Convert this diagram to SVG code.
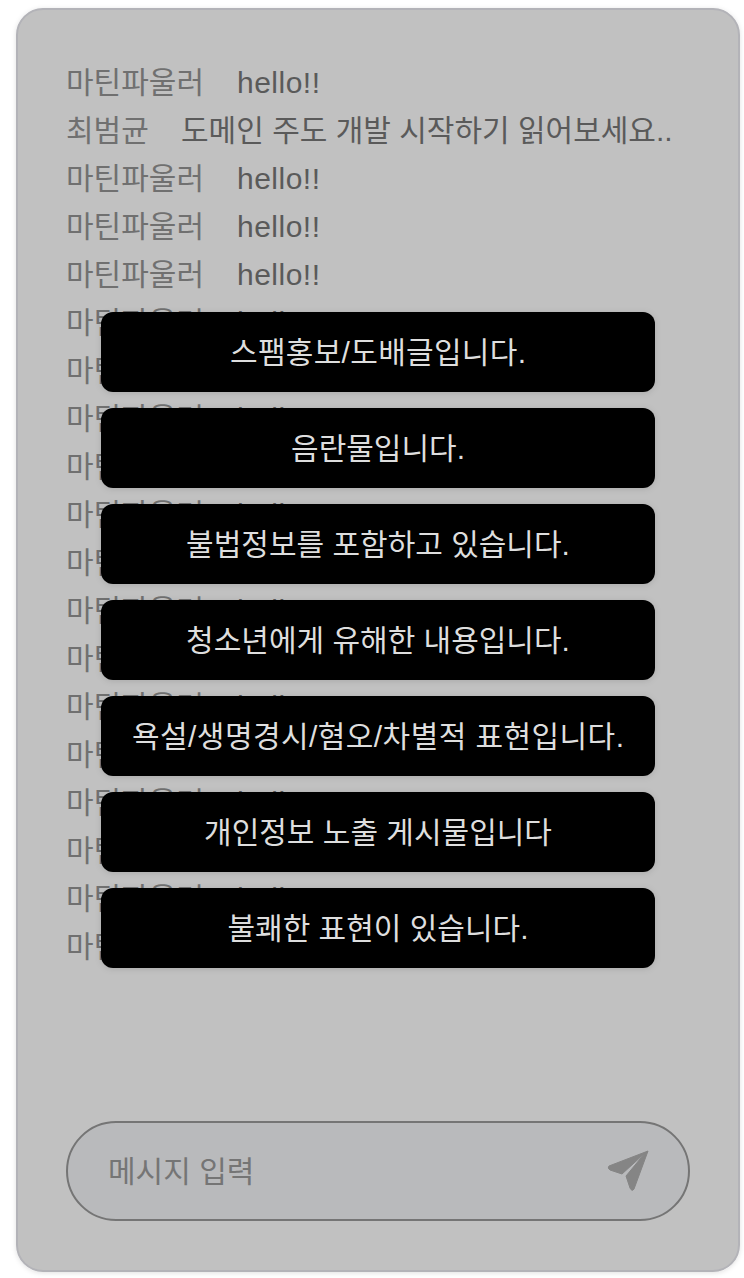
<svg xmlns="http://www.w3.org/2000/svg" width="744" height="1278" viewBox="0 0 744 1278">
<defs>
<filter id="s" x="-5%" y="-5%" width="110%" height="110%"><feDropShadow dx="0" dy="1" stdDeviation="2.5" flood-color="#000" flood-opacity="0.12"/></filter>
<filter id="b" x="-5%" y="-20%" width="110%" height="140%"><feDropShadow dx="0" dy="1" stdDeviation="3" flood-color="#000" flood-opacity="0.12"/></filter>
</defs>
<style>
text{font-family:"Liberation Sans","Noto Sans CJK KR",sans-serif;font-size:30px}
.n{fill:#707070}
.m{fill:#5a5a5a}
.btn rect{fill:#000;filter:url(#b)}
.btn text{fill:#dedede;text-anchor:middle}
</style>
<rect width="744" height="1278" fill="#fff"/>
<rect id="panel" x="17" y="9" width="722" height="1262" rx="26" fill="#c1c1c1" stroke="#b3b3b8" stroke-width="2" filter="url(#s)"/>
<g id="messages">
<g id="msg-1"><text class="n" x="66" y="93">마틴파울러</text><text class="m" x="237" y="93" textLength="83">hello!!</text></g>
<g id="msg-2"><text class="n" x="66" y="141">최범균</text><text class="m" x="181" y="141">도메인 주도 개발 시작하기 읽어보세요..</text></g>
<g id="msg-3"><text class="n" x="66" y="189">마틴파울러</text><text class="m" x="237" y="189" textLength="83">hello!!</text></g>
<g id="msg-4"><text class="n" x="66" y="237">마틴파울러</text><text class="m" x="237" y="237" textLength="83">hello!!</text></g>
<g id="msg-5"><text class="n" x="66" y="285">마틴파울러</text><text class="m" x="237" y="285" textLength="83">hello!!</text></g>
<g id="msg-6"><text class="n" x="66" y="333">마틴파울러</text><text class="m" x="237" y="333" textLength="83">hello!!</text></g>
<g id="msg-7"><text class="n" x="66" y="381">마틴파울러</text><text class="m" x="237" y="381" textLength="83">hello!!</text></g>
<g id="msg-8"><text class="n" x="66" y="429">마틴파울러</text><text class="m" x="237" y="429" textLength="83">hello!!</text></g>
<g id="msg-9"><text class="n" x="66" y="477">마틴파울러</text><text class="m" x="237" y="477" textLength="83">hello!!</text></g>
<g id="msg-10"><text class="n" x="66" y="525">마틴파울러</text><text class="m" x="237" y="525" textLength="83">hello!!</text></g>
<g id="msg-11"><text class="n" x="66" y="573">마틴파울러</text><text class="m" x="237" y="573" textLength="83">hello!!</text></g>
<g id="msg-12"><text class="n" x="66" y="621">마틴파울러</text><text class="m" x="237" y="621" textLength="83">hello!!</text></g>
<g id="msg-13"><text class="n" x="66" y="669">마틴파울러</text><text class="m" x="237" y="669" textLength="83">hello!!</text></g>
<g id="msg-14"><text class="n" x="66" y="717">마틴파울러</text><text class="m" x="237" y="717" textLength="83">hello!!</text></g>
<g id="msg-15"><text class="n" x="66" y="765">마틴파울러</text><text class="m" x="237" y="765" textLength="83">hello!!</text></g>
<g id="msg-16"><text class="n" x="66" y="813">마틴파울러</text><text class="m" x="237" y="813" textLength="83">hello!!</text></g>
<g id="msg-17"><text class="n" x="66" y="861">마틴파울러</text><text class="m" x="237" y="861" textLength="83">hello!!</text></g>
<g id="msg-18"><text class="n" x="66" y="909">마틴파울러</text><text class="m" x="237" y="909" textLength="83">hello!!</text></g>
<g id="msg-19"><text class="n" x="66" y="957">마틴파울러</text><text class="m" x="237" y="957" textLength="83">hello!!</text></g>
</g>
<g id="btn-1" class="btn"><rect x="101" y="312" width="554" height="80" rx="12"/><text x="378" y="363" textLength="296">스팸홍보/도배글입니다.</text></g>
<g id="btn-2" class="btn"><rect x="101" y="408" width="554" height="80" rx="12"/><text x="378" y="459">음란물입니다.</text></g>
<g id="btn-3" class="btn"><rect x="101" y="504" width="554" height="80" rx="12"/><text x="378" y="555">불법정보를 포함하고 있습니다.</text></g>
<g id="btn-4" class="btn"><rect x="101" y="600" width="554" height="80" rx="12"/><text x="378" y="651">청소년에게 유해한 내용입니다.</text></g>
<g id="btn-5" class="btn"><rect x="101" y="696" width="554" height="80" rx="12"/><text x="378" y="747" textLength="492">욕설/생명경시/혐오/차별적 표현입니다.</text></g>
<g id="btn-6" class="btn"><rect x="101" y="792" width="554" height="80" rx="12"/><text x="378" y="843">개인정보 노출 게시물입니다</text></g>
<g id="btn-7" class="btn"><rect x="101" y="888" width="554" height="80" rx="12"/><text x="378" y="939">불쾌한 표현이 있습니다.</text></g>
<g id="input">
<rect x="67" y="1122" width="622" height="98" rx="49" fill="#b9babc" stroke="#757575" stroke-width="2"/>
<text x="108" y="1182" fill="#757575">메시지 입력</text>
<path d="M648 1151 L609 1166 Q607 1168 610 1170 L622 1174 L645 1153 L626 1176 L630 1188 Q632 1192 634 1189 Z" fill="#858585" stroke="#858585" stroke-width="1" stroke-linejoin="round"/>
</g>
</svg>
